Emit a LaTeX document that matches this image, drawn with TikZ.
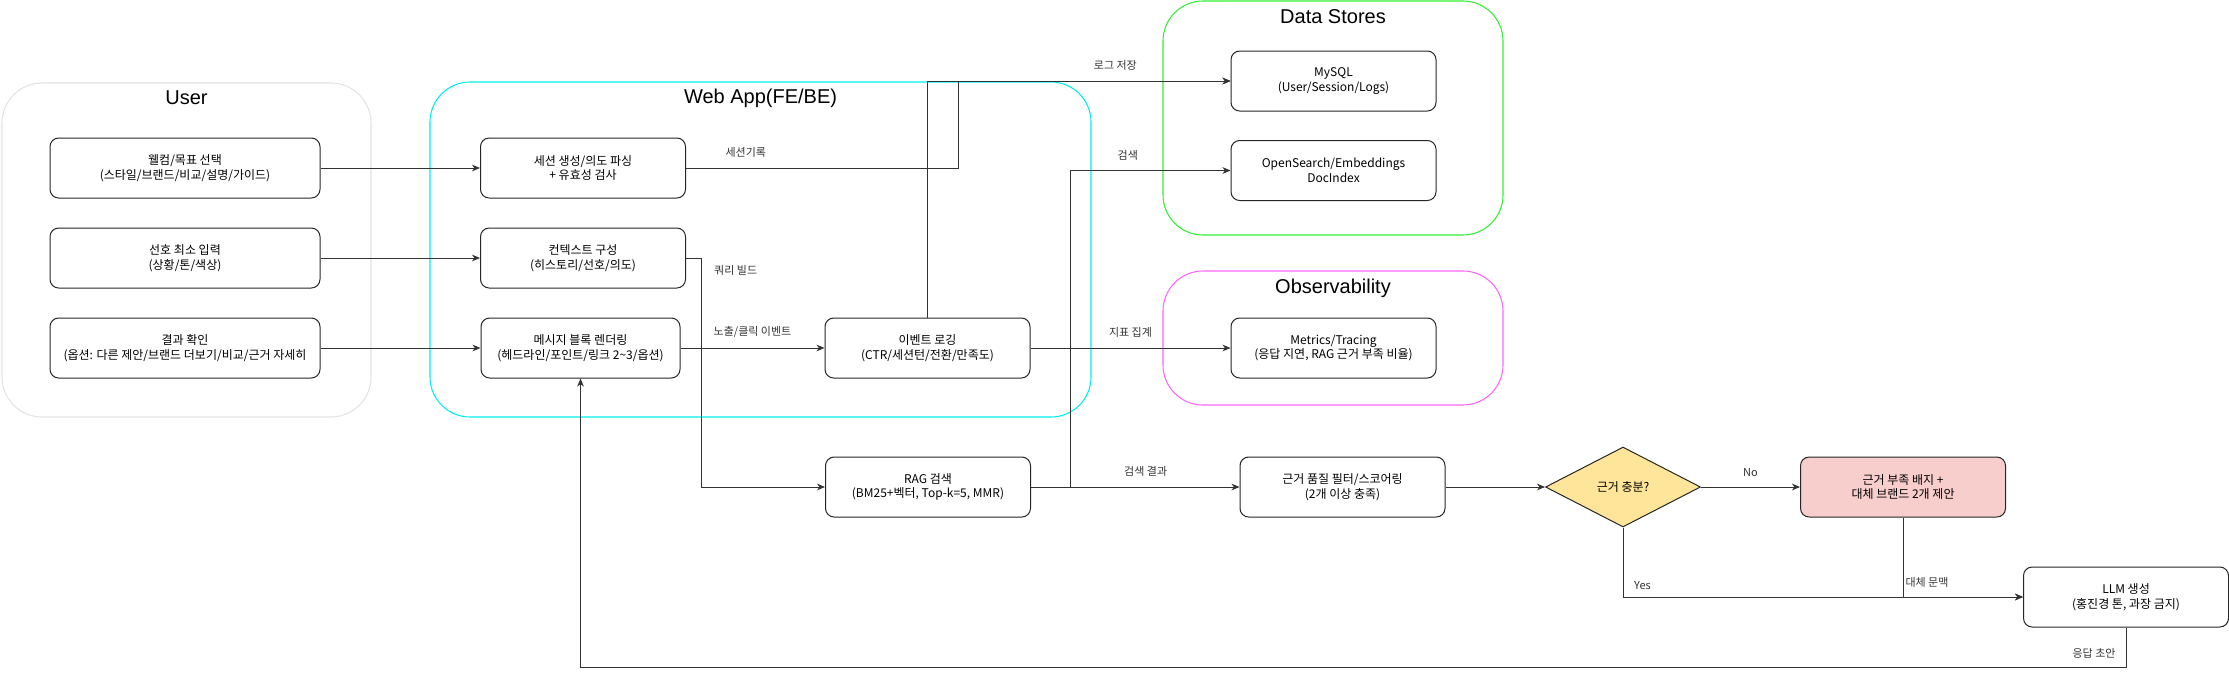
\documentclass[tikz,border=0pt]{standalone}
\usepackage{fontspec}
\setmainfont{Noto Sans CJK KR}
\newfontfamily\titlefont{Liberation Sans}
\usepackage{tikz}
\usetikzlibrary{positioning,arrows.meta,shapes.geometric}
\definecolor{lanegrey}{HTML}{E3E3E3}
\definecolor{lanecyan}{HTML}{00F0F0}
\definecolor{lanegreen}{HTML}{33F033}
\definecolor{lanepink}{HTML}{FF66FF}
\definecolor{checkyellow}{HTML}{FFE599}
\definecolor{warnred}{HTML}{F8CECC}

\begin{document}
\begin{tikzpicture}[
  x=0.75pt, y=-0.75pt,
  font=\fontsize{9}{11}\selectfont,
  lane/.style={draw, rounded corners=30pt, line width=0.8pt},
  lanetitle/.style={font=\titlefont\fontsize{15}{18}\selectfont, inner sep=0pt},
  box/.style={draw=black!85, rounded corners=6.5pt, align=center, line width=0.75pt,
              fill=white, minimum width=153.75pt, minimum height=45pt, inner sep=2pt},
  userbox/.style={box, minimum width=202.5pt},
  warnbox/.style={box, fill=warnred},
  check/.style={diamond, draw=black!85, fill=checkyellow, line width=0.75pt,
                minimum width=116.25pt, minimum height=60pt, inner sep=0pt},
  arr/.style={-{Stealth[length=6pt, width=5pt, inset=1.8pt]}, line width=0.75pt, black!80},
  lab/.style={font=\fontsize{8.25}{10}\selectfont, inner sep=1.5pt}
]
\useasboundingbox (0,0) rectangle (2229,676);
% ----- swimlanes -----
\node[lane, draw=lanegrey, minimum width=276.75pt, minimum height=250.5pt] (userlane) at (186.5,250) {};
\node[lanetitle] (usertitle) at (186.5,98) {User};
\node[lane, draw=lanecyan, minimum width=495.75pt, minimum height=251.25pt] (weblane) at (760.5,249.5) {};
\node[lanetitle] (webtitle) at (760.5,98) {Web App(FE/BE)};
\node[lane, draw=lanegreen, minimum width=255pt, minimum height=175.5pt] (datalane) at (1333,118) {};
\node[lanetitle] (datatitle) at (1333,17) {Data Stores};
\node[lane, draw=lanepink, minimum width=255pt, minimum height=100.5pt] (obslane) at (1333,338) {};
\node[lanetitle] (obstitle) at (1333,288) {Observability};
% ----- user steps -----
\node[userbox] (welcome) at (185,168) {웰컴/목표 선택\\(스타일/브랜드/비교/설명/가이드)};
\node[userbox] (prefer)  at (185,258) {선호 최소 입력\\(상황/톤/색상)};
\node[userbox] (result)  at (185,348) {결과 확인\\(옵션: 다른 제안/브랜드 더보기/비교/근거 자세히};
% ----- web app -----
\node[box] (session)  at (583,168)   {세션 생성/의도 파싱\\+ 유효성 검사};
\node[box] (context)  at (583,258)   {컨텍스트 구성\\(히스토리/선호/의도)};
\node[box, minimum width=149.25pt] (render) at (580.5,348) {메시지 블록 렌더링\\(헤드라인/포인트/링크 2\textasciitilde3/옵션)};
\node[box] (eventlog) at (927.5,348) {이벤트 로깅\\(CTR/세션턴/전환/만족도)};
% ----- stores / observability -----
\node[box] (mysql)    at (1333.5,81)    {MySQL\\(User/Session/Logs)};
\node[box] (docindex) at (1333.5,170.5) {OpenSearch/Embeddings\\DocIndex};
\node[box] (metrics)  at (1333.5,348)   {Metrics/Tracing\\(응답 지연, RAG 근거 부족 비율)};
% ----- retrieval row -----
\node[box]      (rag)      at (928,487)    {RAG 검색\\(BM25+벡터, Top-k=5, MMR)};
\node[box]      (filter)   at (1342.5,487) {근거 품질 필터/스코어링\\(2개 이상 충족)};
\node[check]    (enough)   at (1623,487)   {근거 충분?};
\node[warnbox]  (fallback) at (1903,487)   {근거 부족 배지 +\\대체 브랜드 2개 제안};
\node[box]      (llm)      at (2126,597)   {LLM 생성\\(홍진경 톤, 과장 금지)};
% ----- bends -----
\coordinate (logbend)    at (958,168);
\coordinate (querybend)  at (701,258);
\coordinate (searchbend) at (1070,487);
\coordinate (replybend)  at (2126,667);
% ----- user -> web app -----
\foreach \a/\b in {welcome/session, prefer/context, result/render}{\draw[arr] (\a) -- (\b);}
% ----- web app connections -----
\draw[arr] (session.east) -- node[lab, pos=0.22, above=6pt]{세션기록} (logbend) |- (mysql.west);
\draw[arr] (eventlog.north) |- node[lab, pos=0.81, above=6pt]{로그 저장} (mysql.west);
\draw[arr] (context.east) -- (querybend)
  node[lab, anchor=north west, xshift=8pt, yshift=-4pt]{쿼리 빌드} |- (rag.west);
\draw[arr] (render) -- node[lab, above=6pt]{노출/클릭 이벤트} (eventlog);
\draw[arr] (eventlog) -- node[lab, above=6pt]{지표 집계} (metrics);
\draw[arr] (rag.east) -- (searchbend) |- node[lab, pos=0.68, above=6pt]{검색} (docindex.west);
% ----- retrieval -> answer -----
\draw[arr] (rag) -- node[lab, pos=0.55, above=6pt]{검색 결과} (filter);
\draw[arr] (filter) -- (enough);
\draw[arr] (enough) -- node[lab, above=6pt]{No} (fallback);
\draw[arr] (enough.south) |- node[lab, pos=0.5, anchor=south west, xshift=6.5pt, yshift=4pt]{Yes} (llm.west);
\draw[arr] (fallback.south) |- node[lab, pos=0.41, right]{대체 문맥} (llm.west);
\draw[arr] (llm.south) -- node[lab, pos=0.65, left=6pt]{응답 초안} (replybend) -| (render.south);
\end{tikzpicture}
\end{document}
